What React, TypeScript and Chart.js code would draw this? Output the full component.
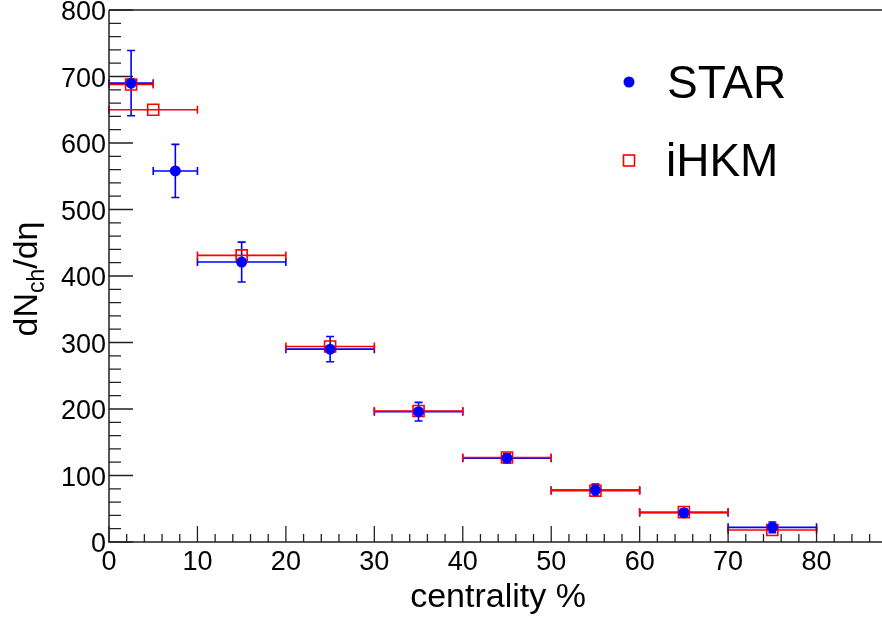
import React, { useEffect, useRef } from "react";
import { Chart, registerables } from "chart.js";

Chart.register(...registerables);

// ---- data ----
const starX = [2.5, 7.5, 15, 25, 35, 45, 55, 65, 75];
const starXLow = [0, 5, 10, 20, 30, 40, 50, 60, 70];
const starXHigh = [5, 10, 20, 30, 40, 50, 60, 70, 80];
const starY = [690, 558, 421, 290, 196, 126, 78, 44, 22];
const starYErr = [49, 40, 30, 19, 14, 7, 9, 5, 8];

const ihkmX = [2.5, 5, 15, 25, 35, 45, 55, 65, 75];
const ihkmXLow = [0, 0, 10, 20, 30, 40, 50, 60, 70];
const ihkmXHigh = [5, 10, 20, 30, 40, 50, 60, 70, 80];
const ihkmY = [688, 650, 431, 294, 197, 127, 77, 45, 18];

const xTicks = [0, 10, 20, 30, 40, 50, 60, 70, 80];
const yTicks = [0, 100, 200, 300, 400, 500, 600, 700, 800];
const xMinorStep = 2;
const yMinorStep = 20;
const xMax = 87.4;
const yMax = 800;

const FONT = "'Liberation Sans', Arial, Helvetica, sans-serif";
const BLUE = "rgb(0,0,255)";
const RED = "rgb(255,0,0)";
const AXIS = "#222";

const errs: Record<number, { lo: number[]; hi: number[]; yerr: number[] | null; color: string }> = {
  0: { lo: starXLow, hi: starXHigh, yerr: starYErr, color: BLUE },
  1: { lo: ihkmXLow, hi: ihkmXHigh, yerr: null, color: RED },
};

const errorBarPlugin = {
  id: "errorBars",
  beforeDatasetsDraw(chart: any) {
    const ctx = chart.ctx;
    const xs = chart.scales.x;
    const ys = chart.scales.y;
    const cap = 4;
    [0, 1].forEach((di) => {
      const ds = chart.data.datasets[di];
      const e = errs[di];
      ctx.save();
      ctx.strokeStyle = e.color;
      ctx.lineWidth = 1.6;
      ds.data.forEach((p: any, i: number) => {
        const px = xs.getPixelForValue(p.x);
        const py = ys.getPixelForValue(p.y);
        const x1 = xs.getPixelForValue(e.lo[i]);
        const x2 = xs.getPixelForValue(e.hi[i]);
        ctx.beginPath();
        ctx.moveTo(x1, py);
        ctx.lineTo(x2, py);
        ctx.moveTo(x1, py - cap);
        ctx.lineTo(x1, py + cap);
        ctx.moveTo(x2, py - cap);
        ctx.lineTo(x2, py + cap);
        if (e.yerr) {
          const y1 = ys.getPixelForValue(p.y - e.yerr[i]);
          const y2 = ys.getPixelForValue(p.y + e.yerr[i]);
          ctx.moveTo(px, y1);
          ctx.lineTo(px, y2);
          ctx.moveTo(px - cap, y1);
          ctx.lineTo(px + cap, y1);
          ctx.moveTo(px - cap, y2);
          ctx.lineTo(px + cap, y2);
        }
        ctx.stroke();
      });
      ctx.restore();
    });
  },
};

const framePlugin = {
  id: "rootFrame",
  afterDraw(chart: any) {
    const ctx = chart.ctx;
    const xs = chart.scales.x;
    const ys = chart.scales.y;
    const { left, right, top, bottom } = chart.chartArea;
    ctx.save();
    ctx.strokeStyle = AXIS;
    ctx.lineWidth = 1.5;
    ctx.beginPath();
    ctx.moveTo(left, top);
    ctx.lineTo(right, top);
    ctx.moveTo(left, top);
    ctx.lineTo(left, bottom);
    ctx.lineTo(right, bottom);
    ctx.stroke();

    // ticks
    ctx.lineWidth = 1.3;
    ctx.beginPath();
    for (let v = 0; v <= xMax + 1e-9; v += xMinorStep) {
      const px = xs.getPixelForValue(v);
      const major = Math.abs(v % 10) < 1e-9;
      ctx.moveTo(px, bottom);
      ctx.lineTo(px, bottom - (major ? 16 : 8));
    }
    for (let v = 0; v <= yMax + 1e-9; v += yMinorStep) {
      const py = ys.getPixelForValue(v);
      const major = Math.abs(v % 100) < 1e-9;
      ctx.moveTo(left, py);
      ctx.lineTo(left + (major ? 24 : 12), py);
    }
    ctx.stroke();

    // tick labels
    ctx.fillStyle = "#000";
    ctx.font = `27px ${FONT}`;
    ctx.textAlign = "center";
    ctx.textBaseline = "alphabetic";
    xTicks.forEach((v) => {
      ctx.fillText(String(v), xs.getPixelForValue(v), bottom + 28);
    });
    ctx.textAlign = "right";
    yTicks.forEach((v) => {
      ctx.fillText(String(v), left - 3, ys.getPixelForValue(v) + 10);
    });

    // x title
    ctx.font = `34px ${FONT}`;
    ctx.textAlign = "center";
    ctx.fillText("centrality %", 498, 607);

    // y title with subscript
    ctx.save();
    ctx.translate(37, 279);
    ctx.rotate(-Math.PI / 2);
    const big = `34px ${FONT}`;
    const small = `23px ${FONT}`;
    ctx.font = big;
    const w1 = ctx.measureText("dN").width;
    const w3 = ctx.measureText("/dη").width;
    ctx.font = small;
    const w2 = ctx.measureText("ch").width;
    let x0 = -(w1 + w2 + w3) / 2;
    ctx.textAlign = "left";
    ctx.font = big;
    ctx.fillText("dN", x0, 0);
    x0 += w1;
    ctx.font = small;
    ctx.fillText("ch", x0, 7);
    x0 += w2;
    ctx.font = big;
    ctx.fillText("/dη", x0, 0);
    ctx.restore();

    // legend
    ctx.font = `46px ${FONT}`;
    ctx.textAlign = "left";
    ctx.fillText(chart.data.datasets[0].label, 667, 98);
    ctx.fillText(chart.data.datasets[1].label, 666, 176);
    ctx.fillStyle = BLUE;
    ctx.beginPath();
    ctx.arc(629, 82, 5.5, 0, Math.PI * 2);
    ctx.fill();
    ctx.strokeStyle = RED;
    ctx.lineWidth = 1.6;
    ctx.strokeRect(623.5, 155, 11, 11);
    ctx.restore();
  },
};

export default function App() {
  const ref = useRef<HTMLCanvasElement | null>(null);
  useEffect(() => {
    document.body.style.margin = "0";
    const canvas = ref.current;
    if (!canvas) return;
    const chart = new Chart(canvas, {
      type: "scatter",
      data: {
        datasets: [
          {
            label: "STAR",
            data: starX.map((x, i) => ({ x, y: starY[i] })),
            pointStyle: "circle",
            pointRadius: 5.5,
            backgroundColor: BLUE,
            borderColor: BLUE,
            borderWidth: 0,
          },
          {
            label: "iHKM",
            data: ihkmX.map((x, i) => ({ x, y: ihkmY[i] })),
            pointStyle: "rect",
            pointRadius: 7.8,
            backgroundColor: "rgba(0,0,0,0)",
            borderColor: RED,
            borderWidth: 1.6,
          },
        ],
      },
      options: {
        responsive: false,
        animation: false,
        layout: { autoPadding: false, padding: { top: 10, right: 0, left: 0, bottom: 0 } },
        plugins: { legend: { display: false }, tooltip: { enabled: false } },
        scales: {
          x: {
            type: "linear",
            min: 0,
            max: xMax,
            ticks: { display: false },
            grid: { display: false, drawTicks: false },
            border: { display: false },
            afterFit: (s: any) => {
              s.height = 77;
            },
          },
          y: {
            type: "linear",
            min: 0,
            max: yMax,
            ticks: { display: false },
            grid: { display: false, drawTicks: false },
            border: { display: false },
            afterFit: (s: any) => {
              s.width = 109;
            },
          },
        },
      },
      plugins: [errorBarPlugin, framePlugin],
    });
    return () => chart.destroy();
  }, []);
  return (
    <div style={{ width: 882, height: 619 }}>
      <canvas ref={ref} width={882} height={619} style={{ display: "block" }} />
    </div>
  );
}
